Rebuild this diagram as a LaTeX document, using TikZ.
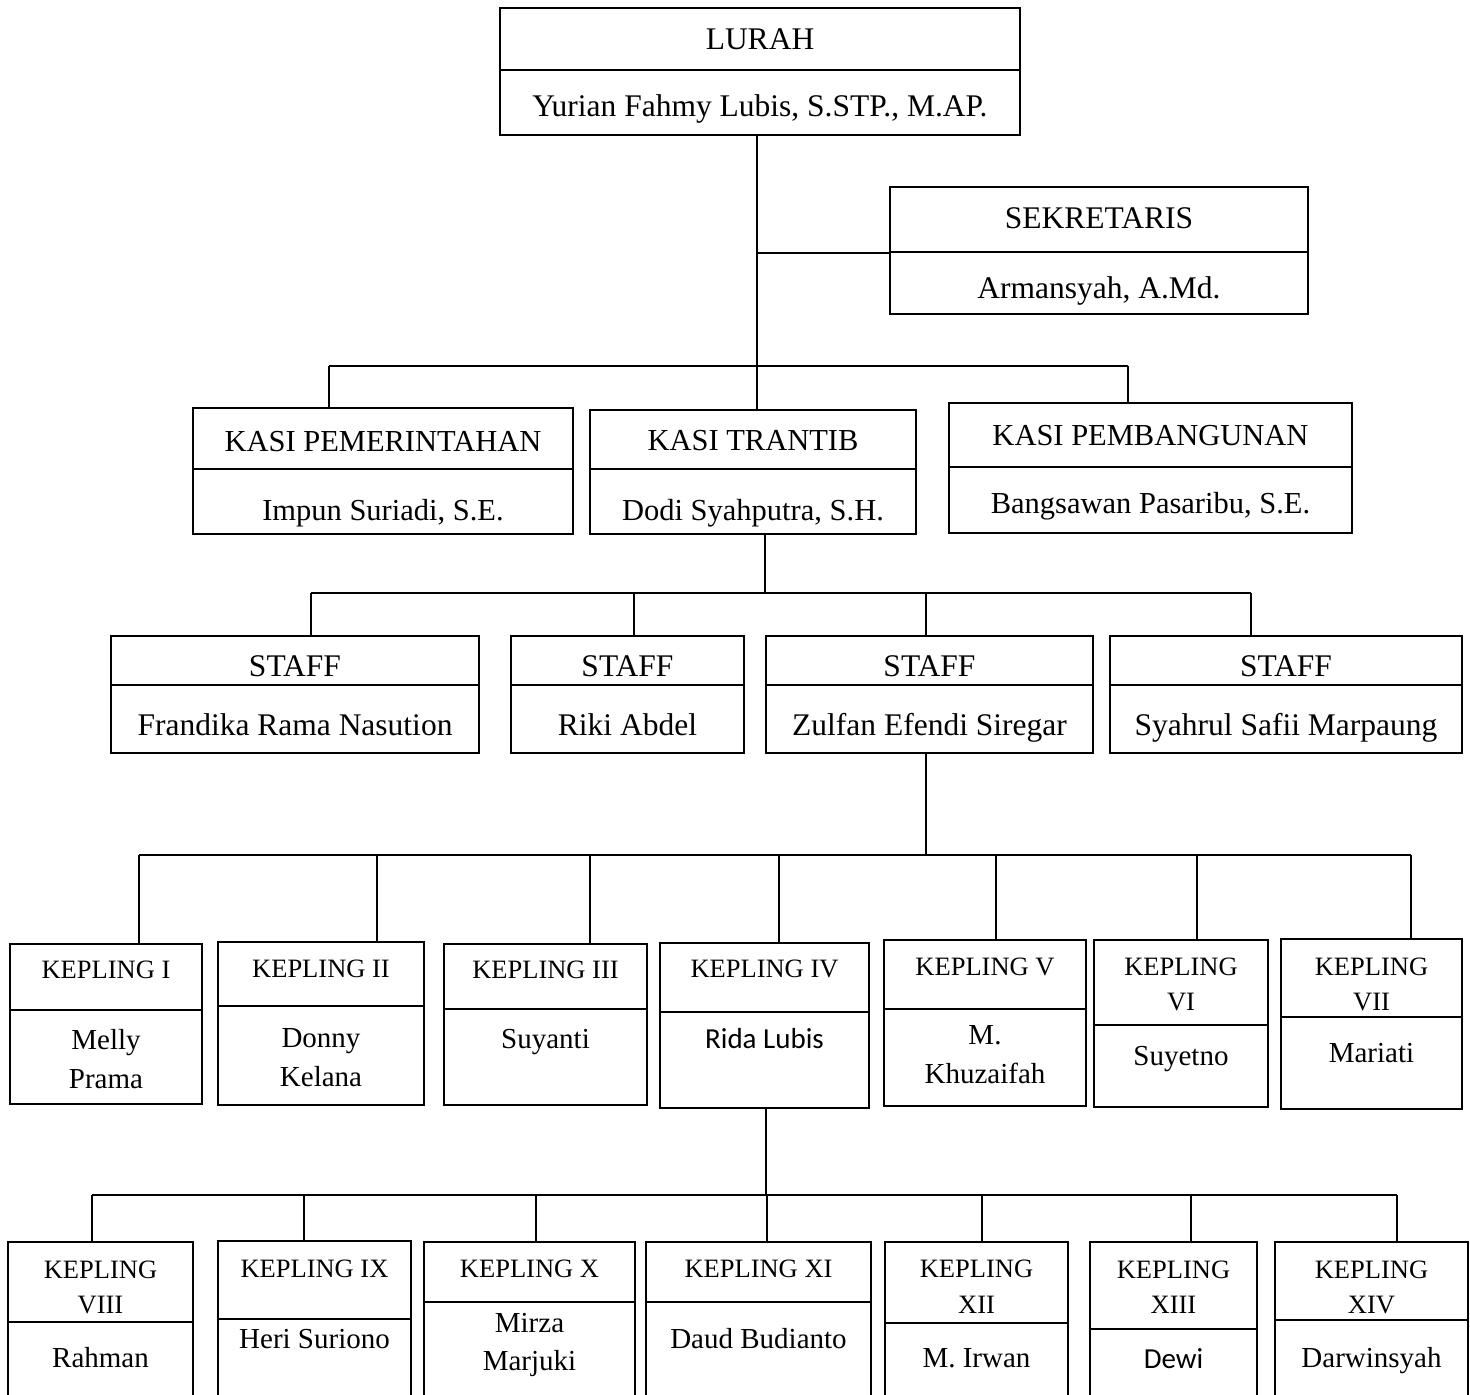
\documentclass[tikz,border=0pt]{standalone}
\usepackage{fontspec}
\setmainfont{Liberation Serif}
\newfontfamily\calib{Carlito}
\usetikzlibrary{fit}
\tikzset{
  bx/.style={draw, line width=1.8pt, inner sep=0pt, rectangle},
  ln/.style={line width=1.8pt},
  fA/.style={font=\fontsize{31.5}{36}\selectfont, anchor=base, inner sep=0pt},
  fK/.style={font=\fontsize{30.5}{36}\selectfont, anchor=base, inner sep=0pt},
  fH/.style={font=\fontsize{26.5}{32}\selectfont, anchor=base, inner sep=0pt},
  fN/.style={font=\fontsize{29}{34}\selectfont, anchor=base, inner sep=0pt},
  fC/.style={font=\calib\fontsize{29}{34}\selectfont, anchor=base, inner sep=0pt},
}
% id, x1, y1, ydiv, y2, x2
\newcommand\orgbox[6]{%
  \node[bx, fit={(#2,#3) (#6,#4)}] (#1-h) {};
  \node[bx, fit={(#2,#4) (#6,#5)}] (#1-b) {};
}
% name, x, baseline y, style, text
\newcommand\tx[5]{\node[#4] (#1) at (#2,#3) {#5};}
\begin{document}
\begin{tikzpicture}[x=1pt, y=-1pt]
\useasboundingbox (0,0) rectangle (1470,1395);
\clip (0,0) rectangle (1470,1395);
% boxes
\orgbox{lurah}{500}{8}{70}{135}{1020}
\orgbox{sek}{890}{187}{252}{314}{1308}
\orgbox{kpem}{193}{408}{469}{534}{573}
\orgbox{ktr}{590}{410}{469}{534}{916}
\orgbox{kpb}{949}{403}{467}{533}{1352}
\orgbox{sa}{111}{636}{685}{753}{479}
\orgbox{sb}{511}{636}{685}{753}{744}
\orgbox{sc}{766}{636}{685}{753}{1093}
\orgbox{sd}{1110}{636}{685}{753}{1462}
\orgbox{ka}{10}{944}{1010}{1104}{202}
\orgbox{kb}{218}{942}{1006}{1105}{424}
\orgbox{kc}{444}{944}{1009}{1105}{647}
\orgbox{kd}{660}{943}{1012}{1108}{869}
\orgbox{ke}{884}{940}{1009}{1106}{1086}
\orgbox{kf}{1094}{940}{1025}{1107}{1268}
\orgbox{kg}{1281}{939}{1017}{1109}{1462}
\orgbox{kh}{8}{1242}{1322}{1420}{193}
\orgbox{ki}{218}{1241}{1319}{1420}{411}
\orgbox{kj}{424}{1242}{1302}{1420}{635}
\orgbox{kk}{646}{1242}{1302}{1420}{871}
\orgbox{kl}{885}{1242}{1323}{1420}{1068}
\orgbox{km}{1090}{1242}{1329}{1420}{1257}
\orgbox{kn}{1275}{1242}{1320}{1420}{1468}
% texts
\tx{lurah-t}{760}{49}{fA}{LURAH}
\tx{lurah-n}{760}{116}{fA}{Yurian Fahmy Lubis, S.STP., M.AP.}
\tx{sek-t}{1099}{228}{fA}{SEKRETARIS}
\tx{sek-n}{1099}{298}{fA}{Armansyah, A.Md.}
\tx{kpem-t}{383}{451}{fK}{KASI PEMERINTAHAN}
\tx{kpem-n}{383}{520}{fK}{Impun Suriadi, S.E.}
\tx{ktr-t}{753}{450}{fK}{KASI TRANTIB}
\tx{ktr-n}{753}{520}{fK}{Dodi Syahputra, S.H.}
\tx{kpb-t}{1150.5}{445}{fK}{KASI PEMBANGUNAN}
\tx{kpb-n}{1150.5}{513}{fK}{Bangsawan Pasaribu, S.E.}
\tx{sa-t}{295}{676}{fA}{STAFF}
\tx{sa-n}{295}{735}{fA}{Frandika Rama Nasution}
\tx{sb-t}{627.5}{676}{fA}{STAFF}
\tx{sb-n}{627.5}{735}{fA}{Riki Abdel}
\tx{sc-t}{929.5}{676}{fA}{STAFF}
\tx{sc-n}{929.5}{735}{fA}{Zulfan Efendi Siregar}
\tx{sd-t}{1286}{676}{fA}{STAFF}
\tx{sd-n}{1286}{735}{fA}{Syahrul Safii Marpaung}
% kepling row 1
\tx{ka-t}{106}{978}{fH}{KEPLING I}
\tx{ka-n1}{106}{1049}{fN}{Melly}
\tx{ka-n2}{106}{1088}{fN}{Prama}
\tx{kb-t}{321}{977}{fH}{KEPLING II}
\tx{kb-n1}{321}{1047}{fN}{Donny}
\tx{kb-n2}{321}{1086}{fN}{Kelana}
\tx{kc-t}{545.5}{978}{fH}{KEPLING III}
\tx{kc-n}{545.5}{1048}{fN}{Suyanti}
\tx{kd-t}{764.5}{977}{fH}{KEPLING IV}
\tx{kd-n}{764.5}{1048}{fC}{Rida Lubis}
\tx{ke-t}{985}{975}{fH}{KEPLING V}
\tx{ke-n1}{985}{1044}{fN}{M.}
\tx{ke-n2}{985}{1083}{fN}{Khuzaifah}
\tx{kf-t1}{1181}{975}{fH}{KEPLING}
\tx{kf-t2}{1181}{1010}{fH}{VI}
\tx{kf-n}{1181}{1065}{fN}{Suyetno}
\tx{kg-t1}{1371.5}{975}{fH}{KEPLING}
\tx{kg-t2}{1371.5}{1010}{fH}{VII}
\tx{kg-n}{1371.5}{1062}{fN}{Mariati}
% kepling row 2
\tx{kh-t1}{100.5}{1278}{fH}{KEPLING}
\tx{kh-t2}{100.5}{1313}{fH}{VIII}
\tx{kh-n}{100.5}{1367}{fN}{Rahman}
\tx{ki-t}{314.5}{1277}{fH}{KEPLING IX}
\tx{ki-n}{314.5}{1348}{fN}{Heri Suriono}
\tx{kj-t}{529.5}{1277}{fH}{KEPLING X}
\tx{kj-n1}{529.5}{1332}{fN}{Mirza}
\tx{kj-n2}{529.5}{1370}{fN}{Marjuki}
\tx{kk-t}{758.5}{1277}{fH}{KEPLING XI}
\tx{kk-n}{758.5}{1348}{fN}{Daud Budianto}
\tx{kl-t1}{976.5}{1277}{fH}{KEPLING}
\tx{kl-t2}{976.5}{1313}{fH}{XII}
\tx{kl-n}{976.5}{1367}{fN}{M. Irwan}
\tx{km-t1}{1173.5}{1278}{fH}{KEPLING}
\tx{km-t2}{1173.5}{1313}{fH}{XIII}
\tx{km-n}{1173.5}{1368}{fC}{Dewi}
\tx{kn-t1}{1371.5}{1278}{fH}{KEPLING}
\tx{kn-t2}{1371.5}{1313}{fH}{XIV}
\tx{kn-n}{1371.5}{1367}{fN}{Darwinsyah}
% connectors: lurah level
\coordinate (j0) at (757,366);
\coordinate (a1) at (329,366);
\coordinate (a3) at (1128,366);
\draw[ln] (lurah-b.south -| j0) -- (j0);
\draw[ln] (sek-h.south west) -- (sek-h.south west -| j0);
\draw[ln] (a1) -- (a3);
\draw[ln] (a1) -- (a1 |- kpem-h.north);
\draw[ln] (j0) -- (j0 |- ktr-h.north);
\draw[ln] (a3) -- (a3 |- kpb-h.north);
% staff level
\coordinate (b0) at (765,593);
\coordinate (b1) at (311,593);
\coordinate (b2) at (634,593);
\coordinate (b3) at (926,593);
\coordinate (b4) at (1251,593);
\draw[ln] (ktr-b.south -| b0) -- (b0);
\draw[ln] (b1) -- (b4);
\draw[ln] (b1) -- (b1 |- sa-h.north);
\draw[ln] (b2) -- (b2 |- sb-h.north);
\draw[ln] (b3) -- (b3 |- sc-h.north);
\draw[ln] (b4) -- (b4 |- sd-h.north);
% kepling row 1
\coordinate (c0) at (926,855);
\coordinate (c1) at (139,855);
\coordinate (c2) at (377,855);
\coordinate (c3) at (590,855);
\coordinate (c4) at (779,855);
\coordinate (c5) at (996,855);
\coordinate (c6) at (1197,855);
\coordinate (c7) at (1411,855);
\draw[ln] (sc-b.south -| c0) -- (c0);
\draw[ln] (c1) -- (c7);
\draw[ln] (c1) -- (c1 |- ka-h.north);
\draw[ln] (c2) -- (c2 |- kb-h.north);
\draw[ln] (c3) -- (c3 |- kc-h.north);
\draw[ln] (c4) -- (c4 |- kd-h.north);
\draw[ln] (c5) -- (c5 |- ke-h.north);
\draw[ln] (c6) -- (c6 |- kf-h.north);
\draw[ln] (c7) -- (c7 |- kg-h.north);
% kepling row 2
\coordinate (e0) at (766,1195);
\coordinate (e1) at (92,1195);
\coordinate (e2) at (304,1195);
\coordinate (e3) at (536,1195);
\coordinate (e4) at (767,1195);
\coordinate (e5) at (982,1195);
\coordinate (e6) at (1191,1195);
\coordinate (e7) at (1397,1195);
\draw[ln] (kd-b.south -| e0) -- (e0);
\draw[ln] (e1) -- (e7);
\draw[ln] (e1) -- (e1 |- kh-h.north);
\draw[ln] (e2) -- (e2 |- ki-h.north);
\draw[ln] (e3) -- (e3 |- kj-h.north);
\draw[ln] (e4) -- (e4 |- kk-h.north);
\draw[ln] (e5) -- (e5 |- kl-h.north);
\draw[ln] (e6) -- (e6 |- km-h.north);
\draw[ln] (e7) -- (e7 |- kn-h.north);
\end{tikzpicture}
\end{document}
